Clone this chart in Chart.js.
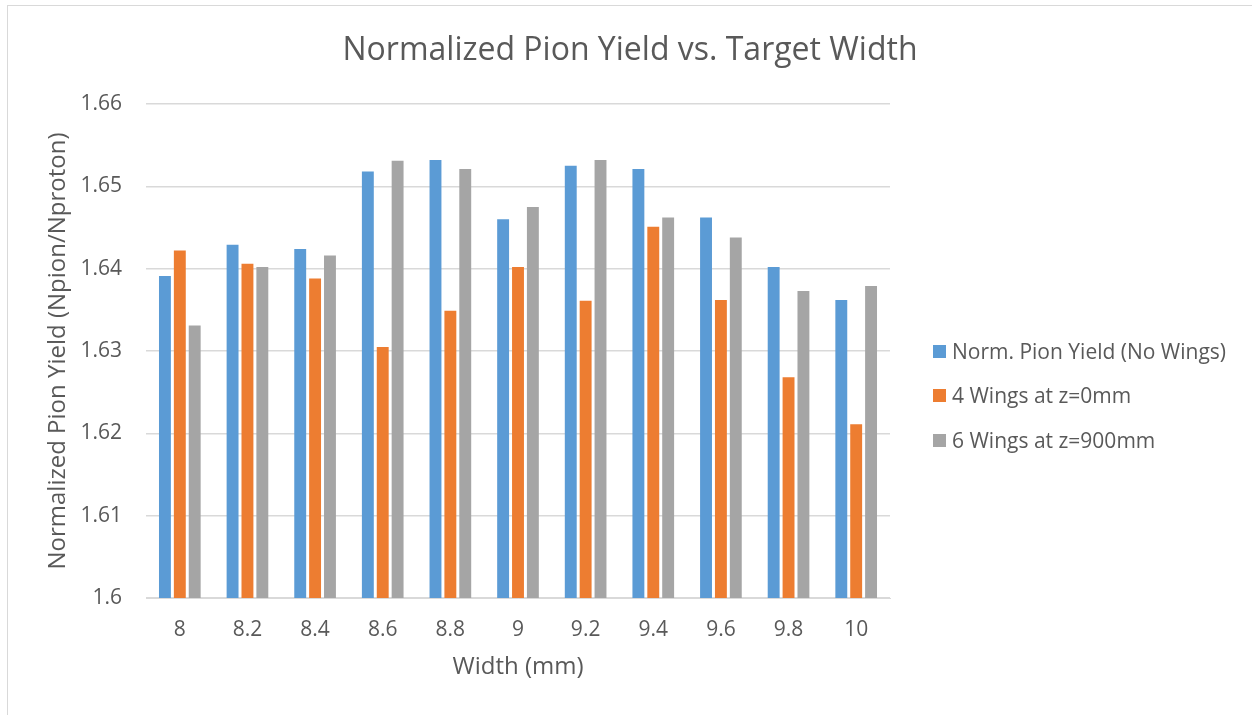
<!DOCTYPE html>
<html>
<head>
<meta charset="utf-8">
<script src="https://cdn.jsdelivr.net/npm/chart.js@4.4.1/dist/chart.umd.min.js"></script>
<style>
  html, body { margin: 0; padding: 0; background: #fff; }
  #wrap { position: relative; width: 1252px; height: 715px; overflow: hidden; }
  #frame { position: absolute; left: 7px; top: 5px; width: 1260px; height: 720px;
           border: 1px solid #d9d9d9; box-sizing: border-box; pointer-events: none; }
  #title { position: absolute; left: 330px; width: 600px; top: 27px; height: 42px; line-height: 42px;
           text-align: center; font-family: "Open Sans", sans-serif; font-size: 32px; color: #595959; white-space: nowrap; }
  #legend { position: absolute; left: 933px; top: 0; font-family: "Open Sans", sans-serif;
            font-size: 21px; color: #595959; }
  .item { position: absolute; left: 0; white-space: nowrap; height: 28px; line-height: 28px; }
  .swatch { position: absolute; left: 0; top: 8px; width: 13px; height: 13px; }
  .label { position: absolute; left: 19px; top: 0; }
</style>
</head>
<body>
<div id="wrap">
  <canvas id="c" width="1252" height="715"></canvas>
  <div id="frame"></div>
  <div id="title">Normalized Pion Yield vs. Target Width</div>
  <div id="legend"></div>
</div>
<script>
// Target widths (mm) along the x axis
const widths = ['8', '8.2', '8.4', '8.6', '8.8', '9', '9.2', '9.4', '9.6', '9.8', '10'];

// Normalized pion yield (Npion/Nproton) per configuration
const noWings     = [1.6391, 1.6429, 1.6424, 1.6518, 1.6532, 1.6460, 1.6525, 1.6521, 1.6462, 1.6402, 1.6362];
const fourWings   = [1.6422, 1.6406, 1.6388, 1.6305, 1.6349, 1.6402, 1.6361, 1.6451, 1.6362, 1.6268, 1.6211];
const sixWings    = [1.6331, 1.6402, 1.6416, 1.6531, 1.6521, 1.6475, 1.6532, 1.6462, 1.6438, 1.6373, 1.6379];

const seriesNames = ['Norm. Pion Yield (No Wings)', '4 Wings at z=0mm', '6 Wings at z=900mm'];
const seriesColors = ['#5B9BD5', '#ED7D31', '#A5A5A5'];

// Value axis tick labels
const yTickLabels = ['1.6', '1.61', '1.62', '1.63', '1.64', '1.65', '1.66'];

const FONT = '"Open Sans", sans-serif';
const TEXT = '#595959';
const GRID = '#d9d9d9';

const seriesData = [noWings, fourWings, sixWings];

new Chart(document.getElementById('c'), {
  type: 'bar',
  data: {
    labels: widths,
    datasets: seriesData.map((d, i) => ({
      label: seriesNames[i],
      data: d,
      backgroundColor: seriesColors[i],
      borderWidth: 0,
      categoryPercentage: 0.66,
      barPercentage: 0.8
    }))
  },
  options: {
    responsive: false,
    animation: false,
    layout: { padding: { top: 104, right: 362, bottom: 33, left: 44 } },
    plugins: {
      legend: { display: false },
      tooltip: { enabled: false },
      title: { display: false }
    },
    scales: {
      x: {
        afterFit: (s) => { s.height = 84; },
        grid: { display: false, drawTicks: false },
        border: { display: true, color: GRID, width: 1 },
        ticks: { color: TEXT, font: { family: FONT, size: 21 }, padding: 19 },
        title: {
          display: true, text: 'Width (mm)', color: TEXT,
          font: { family: FONT, size: 24 }, padding: { top: 0, bottom: 0 }
        }
      },
      y: {
        min: 1.6, max: 1.66,
        afterFit: (s) => { s.width = 102; },
        grid: { color: GRID, lineWidth: 1.5, drawTicks: false },
        border: { display: false },
        ticks: {
          stepSize: 0.01, color: TEXT, font: { family: FONT, size: 21 }, padding: 24,
          callback: (v) => yTickLabels[Math.round((v - 1.6) * 100)]
        },
        title: {
          display: true, text: 'Normalized Pion Yield (Npion/Nproton)', color: TEXT,
          font: { family: FONT, size: 24 }, padding: { top: 0, bottom: 0 }
        }
      }
    }
  }
});

// Legend built from the same series names and colours
const legend = document.getElementById('legend');
const legendY = [351, 395, 440];
seriesNames.forEach((name, i) => {
  const item = document.createElement('div');
  item.className = 'item';
  item.style.top = (legendY[i] - 14) + 'px';
  const sw = document.createElement('div');
  sw.className = 'swatch';
  sw.style.background = seriesColors[i];
  const lb = document.createElement('div');
  lb.className = 'label';
  lb.textContent = name;
  item.appendChild(sw);
  item.appendChild(lb);
  legend.appendChild(item);
});
</script>
</body>
</html>
